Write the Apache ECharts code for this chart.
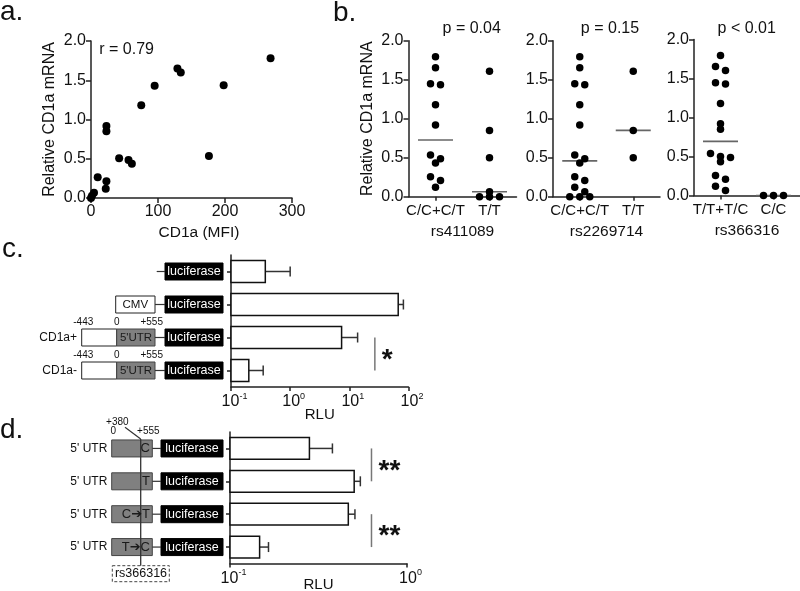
<!DOCTYPE html>
<html><head><meta charset="utf-8">
<script src="https://cdn.jsdelivr.net/npm/echarts@6/dist/echarts.min.js"></script>
<style>html,body{margin:0;padding:0;background:#fff}#c{width:800px;height:591px}</style>
</head><body><div id="c"></div>
<script>
// ================= DATA =================
// panel a: CD1a MFI vs relative CD1a mRNA
const mfiValues  = [268, 129, 134, 198, 95, 75, 23, 23, 176, 42, 56, 61, 10, 23, 22, 4.5, 1.5, 0];
const mrnaValues = [1.78, 1.65, 1.60, 1.435, 1.43, 1.18, 0.917, 0.85, 0.535, 0.505, 0.484, 0.437, 0.263, 0.212, 0.119, 0.068, 0.03, 0];
const correlationText = 'r = 0.79';
const xTitleA = 'CD1a (MFI)';
const yTitle = 'Relative CD1a mRNA';

// panel b: genotype groups
const snpNames = ['rs411089', 'rs2269714', 'rs366316'];
const snpCats = [['C/C+C/T', 'T/T'], ['C/C+C/T', 'T/T'], ['T/T+T/C', 'C/C']];
const pValues = ['p = 0.04', 'p = 0.15', 'p < 0.01'];
const rs411089_g1 = [1.795, 1.654, 1.449, 1.436, 1.18, 0.919, 0.534, 0.487, 0.432, 0.256, 0.209, 0.12];
const rs411089_g2 = [1.607, 0.85, 0.5, 0.064, 0, 0, 0];
const rs2269714_g1 = [1.795, 1.654, 1.449, 1.436, 1.18, 0.919, 0.534, 0.487, 0.432, 0.256, 0.209, 0.12, 0.064, 0, 0, 0];
const rs2269714_g2 = [1.607, 0.85, 0.5];
const rs366316_g1 = [1.795, 1.654, 1.603, 1.444, 1.43, 1.18, 0.919, 0.85, 0.538, 0.5, 0.487, 0.432, 0.256, 0.209, 0.12, 0.064];
const rs366316_g2 = [0, 0, 0];

// panel c: promoter constructs, RLU mean and SD
const constructsC = ['-', 'CMV', 'CD1a+', 'CD1a-'];
const rluC = [0.38, 67, 7.4, 0.20];
const sdC  = [0.62, 15, 6.4, 0.15];
const sigC = [{from: 2, to: 3, mark: '*'}];

// panel d: 5'UTR variants
const constructsD = ['C', 'T', 'C\u2794T', 'T\u2794C'];
const rluD = [0.281, 0.503, 0.466, 0.147];
const sdD  = [0.098, 0.042, 0.042, 0.018];
const sigD = [{from: 0, to: 1, mark: '**'}, {from: 2, to: 3, mark: '**'}];
const rlu = 'RLU';

// ================= CHART =================
const F = "'Liberation Sans', Arial, Helvetica, 'DejaVu Sans', sans-serif";
const INK = '#111';
const chart = echarts.init(document.getElementById('c'), null, {renderer: 'canvas'});

const grids = [
  {left: 91, top: 41, width: 201, height: 157},
  {left: 408.5, top: 40.7, width: 108, height: 156},
  {left: 553, top: 40.7, width: 107, height: 156},
  {left: 694, top: 39.5, width: 106, height: 156},
  {left: 231, top: 255, width: 177.5, height: 132},
  {left: 230, top: 432, width: 177, height: 131.5}
].map(g => Object.assign({containLabel: false, outerBoundsMode: 'none'}, g));

const aLine = {show: true, onZero: false, lineStyle: {color: '#222', width: 1.5}};
const aTick = (len) => ({show: true, length: len, inside: false, lineStyle: {color: '#222', width: 1.5}});

function yValAxis(gi, withName) {
  return {gridIndex: gi, type: 'value', min: 0, max: 2, interval: 0.5,
    axisLine: aLine, axisTick: aTick(5), splitLine: {show: false},
    axisLabel: {formatter: v => v.toFixed(1), fontSize: 16, color: INK, fontFamily: F, margin: 5},
    name: withName ? yTitle : '', nameLocation: 'middle', nameGap: 33, nameRotate: 90, nameMoveOverlap: false,
    nameTextStyle: {fontSize: 16, color: INK, fontFamily: F}};
}
const powLabel = v => '{b|10}{s|' + Math.round(Math.log10(v)) + '}';
const powRich = {b: {fontSize: 16, color: INK, fontFamily: F, lineHeight: 20, padding: [0, 0, 0, 7]},
                 s: {fontSize: 9, color: INK, fontFamily: F, verticalAlign: 'top', lineHeight: 9}};
function logXAxis(gi, max, gap) {
  return {gridIndex: gi, type: 'log', logBase: 10, min: 0.1, max: max,
    axisLine: aLine, axisTick: aTick(4), minorTick: {show: false}, splitLine: {show: false}, minorSplitLine: {show: false},
    axisLabel: {formatter: powLabel, rich: powRich, margin: 5},
    name: rlu, nameLocation: 'middle', nameGap: gap, nameMoveOverlap: false,
    nameTextStyle: {fontSize: 15, color: INK, fontFamily: F}};
}
function catYAxis(gi, data) {
  return {gridIndex: gi, type: 'category', data: data, inverse: true,
    axisLine: aLine, axisTick: Object.assign(aTick(4), {alignWithLabel: true}),
    axisLabel: {show: false}, splitLine: {show: false}};
}

const xAxes = [
  {gridIndex: 0, type: 'value', min: 0, max: 300, interval: 100,
   axisLine: aLine, axisTick: aTick(5), splitLine: {show: false},
   axisLabel: {fontSize: 16, color: INK, fontFamily: F, margin: 6},
   name: xTitleA, nameLocation: 'middle', nameGap: 27, nameMoveOverlap: false,
   nameTextStyle: {fontSize: 15.5, color: INK, fontFamily: F, padding: [0, 0, 0, 15]}}
];
snpNames.forEach((nm, k) => xAxes.push({gridIndex: k + 1, type: 'category', data: snpCats[k], boundaryGap: true,
  axisLine: aLine, axisTick: Object.assign(aTick(4), {alignWithLabel: true}), splitLine: {show: false},
  axisLabel: {fontSize: 15, color: INK, fontFamily: F, margin: 7, interval: 0},
  name: nm, nameLocation: 'middle', nameGap: 27, nameMoveOverlap: false,
  nameTextStyle: {fontSize: 15.5, color: INK, fontFamily: F}}));
xAxes.push(logXAxis(4, 100, 20.5));
xAxes.push(logXAxis(5, 1, 13.5));

const yAxes = [yValAxis(0, true), yValAxis(1, true), yValAxis(2, false), yValAxis(3, false),
  catYAxis(4, constructsC), catYAxis(5, constructsD)];

// ---- helpers ----
function swarmOffsets(vals, thr) {
  const idx = vals.map((v, i) => i).sort((a, b) => vals[b] - vals[a]);
  const off = new Array(vals.length).fill(0);
  let k = 0;
  while (k < idx.length) {
    const start = vals[idx[k]]; let j = k;
    while (j < idx.length && start - vals[idx[j]] < thr) j++;
    const n = j - k;
    for (let m = 0; m < n; m++) off[idx[k + m]] = m - (n - 1) / 2;
    k = j;
  }
  return off;
}
function median(a) {
  const s = [...a].sort((x, y) => x - y), n = s.length;
  return n % 2 ? s[(n - 1) / 2] : (s[n / 2 - 1] + s[n / 2]) / 2;
}

const series = [];
series.push({type: 'scatter', xAxisIndex: 0, yAxisIndex: 0, symbolSize: 8,
  itemStyle: {color: '#000', opacity: 1}, data: mfiValues.map((x, i) => [x, mrnaValues[i]])});

const groups = [[rs411089_g1, rs411089_g2], [rs2269714_g1, rs2269714_g2], [rs366316_g1, rs366316_g2]];
groups.forEach((gr, k) => {
  const pts = [], meds = [];
  gr.forEach((vals, ci) => {
    const off = swarmOffsets(vals, 0.06);
    vals.forEach((v, i) => pts.push({value: [ci, v], symbolOffset: [off[i] * 10, 0]}));
    meds.push([ci, median(vals)]);
  });
  series.push({type: 'scatter', xAxisIndex: k + 1, yAxisIndex: k + 1, symbol: 'rect', symbolSize: [35, 1.6],
    itemStyle: {color: '#666', opacity: 1}, data: meds, z: 2});
  series.push({type: 'scatter', xAxisIndex: k + 1, yAxisIndex: k + 1, symbolSize: 7.5,
    itemStyle: {color: '#000', opacity: 1}, data: pts, z: 3});
});

function barRender(params, api) {
  const v = api.value(0), ci = api.value(1), hi = api.value(2);
  const p0 = api.coord([0.1, ci]), p1 = api.coord([v, ci]), pe = api.coord([hi, ci]);
  const band = Math.abs(api.coord([v, 1])[1] - api.coord([v, 0])[1]);
  const h = band * 0.66;
  return {type: 'group', children: [
    {type: 'line', shape: {x1: p1[0], y1: p1[1], x2: pe[0], y2: pe[1]}, style: {stroke: '#333', lineWidth: 1.5}},
    {type: 'line', shape: {x1: pe[0], y1: pe[1] - 5, x2: pe[0], y2: pe[1] + 5}, style: {stroke: '#333', lineWidth: 1.5}},
    {type: 'rect', shape: {x: p0[0], y: p1[1] - h / 2, width: p1[0] - p0[0], height: h},
     style: {fill: '#fff', stroke: '#111', lineWidth: 1.5}}
  ]};
}
series.push({type: 'custom', xAxisIndex: 4, yAxisIndex: 4, renderItem: barRender, encode: {x: [0, 2], y: 1},
  data: rluC.map((v, i) => [v, i, v + sdC[i]])});
series.push({type: 'custom', xAxisIndex: 5, yAxisIndex: 5, renderItem: barRender, encode: {x: [0, 2], y: 1},
  data: rluD.map((v, i) => [v, i, v + sdD[i]])});

function sigSeries(gi, list, xv) {
  return {type: 'custom', xAxisIndex: gi, yAxisIndex: gi, encode: {x: 0, y: 1},
    data: list.map(s => [xv, s.from, s.to]),
    renderItem: (params, api) => {
      const a = api.coord([api.value(0), api.value(1)]), b = api.coord([api.value(0), api.value(2)]);
      const mark = list[params.dataIndex].mark;
      return {type: 'group', children: [
        {type: 'line', shape: {x1: a[0], y1: a[1], x2: b[0], y2: b[1]}, style: {stroke: '#777', lineWidth: 1.5}},
        {type: 'text', x: a[0] + 7, y: (a[1] + b[1]) / 2 + 6,
         style: {text: mark, font: 'bold 28px ' + F, fill: INK, align: 'left', verticalAlign: 'middle'}}
      ]};
    }};
}
series.push(sigSeries(4, sigC, 27));
series.push(sigSeries(5, sigD, 0.63));

chart.setOption({animation: false, backgroundColor: '#fff', textStyle: {fontFamily: F},
  grid: grids, xAxis: xAxes, yAxis: yAxes, series: series});

// ================= ANNOTATIONS / SCHEMATICS =================
const G = [];
function txt(x, y, s, size, opts) {
  G.push({type: 'text', x: x, y: y, z: 20, style: Object.assign({text: s, font: size + 'px ' + F, fill: INK,
    align: 'center', verticalAlign: 'middle'}, opts || {})});
}
function rect(x, y, w, h, fill, stroke, extra) {
  G.push({type: 'rect', z: 10, shape: {x: x, y: y, width: w, height: h},
    style: Object.assign({fill: fill, stroke: stroke, lineWidth: 1}, extra || {})});
}
function line(x1, y1, x2, y2, color, w, z) {
  G.push({type: 'line', z: z || 12, shape: {x1: x1, y1: y1, x2: x2, y2: y2}, style: {stroke: color, lineWidth: w}});
}
function luc(x, y, w) { rect(x, y - 8.5, w, 17, '#000', '#000'); txt(x + w / 2, y, 'luciferase', 12.5, {fill: '#fff'}); }

txt(0, 12, 'a.', 28, {align: 'left'});
txt(333, 13, 'b.', 28, {align: 'left'});
txt(2, 249, 'c.', 28, {align: 'left'});
txt(0, 430, 'd.', 28, {align: 'left'});
txt(99.3, 50, correlationText, 16, {align: 'left'});
[471.7, 610, 746.7].forEach((x, k) => txt(x, 28.3, pValues[k], 16));

const rowYc = constructsC.map((_, i) => chart.convertToPixel({gridIndex: 4}, [1, i])[1]);
rowYc.forEach((y, i) => {
  const name = constructsC[i];
  luc(165, y, 58);
  if (name === '-') { line(156.7, y, 165, y, '#333', 1.2); }
  else if (name === 'CMV') {
    rect(115.7, y - 8.5, 39.3, 17, '#fff', '#222');
    txt(135.3, y, 'CMV', 11.5);
    line(155, y, 165, y, '#333', 1.2);
  } else {
    rect(81.7, y - 8.5, 35, 17, '#fff', '#222');
    rect(116.7, y - 8.5, 38.3, 17, '#808080', '#444');
    txt(136, y, "5'UTR", 11.5, {fill: '#1a1a1a'});
    line(155, y, 165, y, '#333', 1.2);
    txt(83.3, y - 15, '-443', 10);
    txt(116.7, y - 15, '0', 10);
    txt(151.7, y - 15, '+555', 10);
    txt(77, y, name, 12, {align: 'right'});
  }
});

const rowYd = constructsD.map((_, i) => chart.convertToPixel({gridIndex: 5}, [1, i])[1]);
rowYd.forEach((y, i) => {
  txt(107.3, y, "5' UTR", 12, {align: 'right'});
  rect(111.7, y - 8.5, 40.6, 17, '#808080', '#444');
  txt(150, y, constructsD[i], 13, {align: 'right', fill: '#1a1a1a'});
  line(152.3, y, 161, y, '#333', 1.2);
  luc(161, y, 62);
});
line(140.7, rowYd[0] - 9.5, 140.7, 565.7, '#333', 1.3, 15);
line(125, 427.3, 140.7, rowYd[0] - 9.5, '#333', 1.2, 15);
txt(117.3, 422.3, '+380', 10);
txt(113.3, 431.5, '0', 10);
txt(148.3, 431.5, '+555', 10);
rect(112.3, 565.7, 57, 16, 'none', '#444', {lineDash: [3, 2]});
txt(141, 573.7, snpNames[2], 12.5);

chart.setOption({graphic: G});
</script></body></html>
